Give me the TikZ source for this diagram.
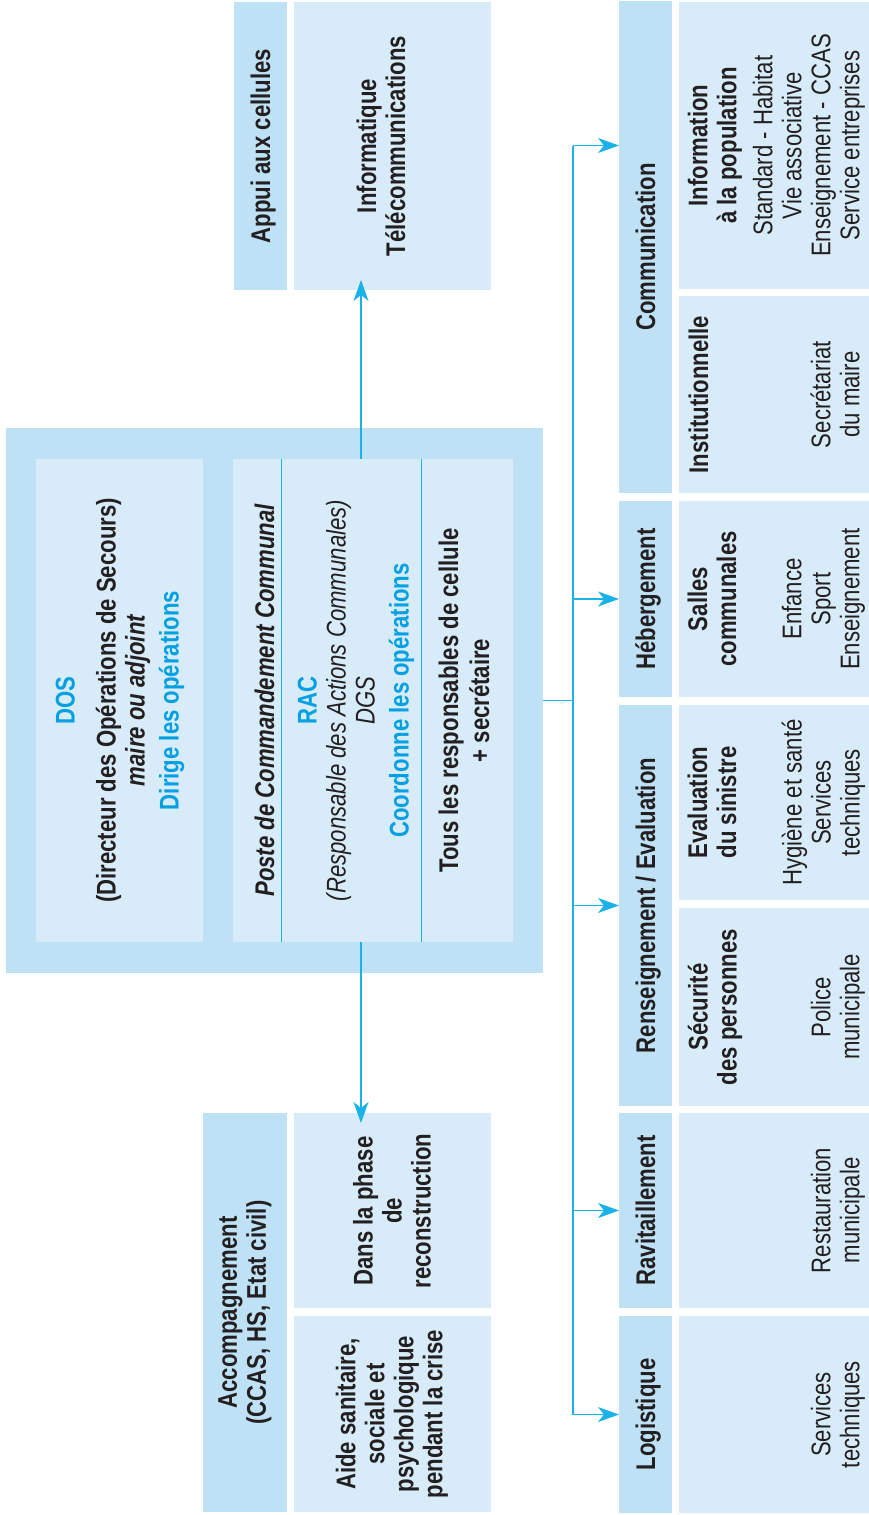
\documentclass[tikz,border=0pt]{standalone}
\usepackage{fontspec}
\setmainfont{Liberation Sans}[FakeStretch=0.82]
\usetikzlibrary{arrows.meta}
\definecolor{hdr}{RGB}{190,225,245}
\definecolor{cnt}{RGB}{215,235,249}
\definecolor{cyanline}{RGB}{27,178,234}
\definecolor{cyantext}{RGB}{0,160,227}
\definecolor{txt}{RGB}{35,31,32}
\newcommand\dfs{\fontsize{27}{29}\selectfont}
\newcommand\bx[6]{\node[#1,minimum width={#4-#2},minimum height={#5-#3}] (#6) at (#2,#3) {};}
\tikzset{
  hbox/.style={fill=hdr,draw=none,inner sep=0pt,outer sep=0pt,anchor=north west},
  cbox/.style={fill=cnt,draw=none,inner sep=0pt,outer sep=0pt,anchor=north west},
  rt/.style={rotate=90,inner sep=0pt,align=center,font=\dfs,text=txt},
  conn/.style={draw=cyanline,line width=1.4pt},
  arr/.style={conn,-{Stealth[length=21pt,width=15pt,inset=6pt]}},
  divl/.style={draw=cyanline,line width=0.9pt},
}
\begin{document}
\begin{tikzpicture}[x=1pt,y=-1pt]
\useasboundingbox (0,0) rectangle (869,1515);
% ---- boxes ----
\bx{hbox}{234}{2}{287}{290}{appui}
\bx{cbox}{294}{2}{491}{290}{infotel}
\bx{hbox}{6}{428}{543}{973}{outer}
\bx{cbox}{36}{459}{203}{942}{dos}
\bx{cbox}{233}{459}{513}{942}{pcc}
\bx{hbox}{203}{1113}{287}{1512}{accomp}
\bx{cbox}{294}{1113}{491}{1308}{dans}
\bx{cbox}{294}{1316}{491}{1512}{aide}
\bx{hbox}{619}{1}{672}{493}{comm}
\bx{hbox}{619}{501}{672}{697}{heb}
\bx{hbox}{619}{705}{672}{1106}{rens}
\bx{hbox}{619}{1113}{672}{1308}{ravi}
\bx{hbox}{619}{1316}{672}{1513}{logi}
\bx{cbox}{679}{2}{869}{289}{infopop}
\bx{cbox}{679}{296}{869}{493}{instit}
\bx{cbox}{679}{501}{869}{697}{salles}
\bx{cbox}{679}{705}{869}{900}{evalu}
\bx{cbox}{679}{908}{869}{1106}{secu}
\bx{cbox}{679}{1113}{869}{1308}{resto}
\bx{cbox}{679}{1316}{869}{1513}{servt}
% dividers in PCC
\draw[divl] ([xshift=48pt]pcc.north west) -- ([xshift=48pt]pcc.south west);
\draw[divl] ([xshift=188pt]pcc.north west) -- ([xshift=188pt]pcc.south west);
% ---- connectors ----
\coordinate (vx) at (361,0);
\coordinate (tx) at (573,0);
\draw[arr] (pcc.north -| vx) -- ([yshift=10pt]infotel.south -| vx);
\draw[arr] (pcc.south -| vx) -- ([yshift=-10pt]dans.north -| vx);
\draw[conn] (outer.east) -- (outer.east -| tx);
\draw[conn] (tx |- infopop.center) -- (tx |- logi.center);
\draw[arr] (tx |- infopop.center) -- (comm.west |- infopop.center);
\draw[arr] (tx |- heb.center) -- (heb.west);
\draw[arr] (tx |- rens.center) -- (rens.west);
\draw[arr] (tx |- ravi.center) -- (ravi.west);
\draw[arr] (tx |- logi.center) -- (logi.west);
% ---- texts ----
\node[rt,anchor=base] (tappui) at (270,146) {\bfseries Appui aux cellules};
\node[rt] (tinfotel) at (381,146) {\bfseries Informatique\\\bfseries Télécommunications};
\node[rt] (tdos) at (120,700.5) {{\bfseries\color{cyantext}DOS}\\[12pt]
  {\bfseries (Directeur des Opérations de Secours)}\\
  {\bfseries\itshape maire ou adjoint}\\[5pt]
  {\bfseries\color{cyantext}Dirige les opérations}};
\node[rt,anchor=base] (tpcc) at (274,700.5) {\bfseries\itshape Poste de Commandement Communal};
\node[rt] (trac) at (356,700.5) {{\bfseries\color{cyantext}RAC}\\
  {\itshape (Responsable des Actions Communales)}\\
  {\itshape DGS}\\[5pt]
  {\bfseries\color{cyantext}Coordonne les opérations}};
\node[rt] (ttous) at (464,700.5) {{\bfseries Tous les responsables de cellule}\\[2pt]{\bfseries + secrétaire}};
\node[rt] (taccomp) at (245,1312.5) {{\bfseries Accompagnement}\\{\bfseries (CCAS, HS, Etat civil)}};
\node[rt] (tdans) at (392,1211) {{\bfseries Dans la phase}\\{\bfseries de}\\{\bfseries reconstruction}};
\node[rt] (taide) at (392,1414) {{\bfseries Aide sanitaire,}\\{\bfseries sociale et}\\{\bfseries psychologique}\\{\bfseries pendant la crise}};
% headers right
\node[rt,anchor=base] (tcomm) at (655,247) {\bfseries Communication};
\node[rt,anchor=base] (theb) at (655,599) {\bfseries Hébergement};
\node[rt,anchor=base] (trens) at (655,905.5) {\bfseries Renseignement / Evaluation};
\node[rt,anchor=base] (travi) at (655,1210.5) {\bfseries Ravitaillement};
\node[rt,anchor=base] (tlogi) at (655,1414.5) {\bfseries Logistique};
% content texts
\node[rt] (tinfo1) at (715,145.5) {{\bfseries Information}\\{\bfseries à la population}};
\node[rt] (tinfo2) at (809,145.5) {Standard - Habitat\\Vie associative\\Enseignement - CCAS\\Service entreprises};
\node[rt,anchor=base] (tinst1) at (708,394.5) {\bfseries Institutionnelle};
\node[rt] (tinst2) at (835,394.5) {Secrétariat\\du maire};
\node[rt] (tsal1) at (712,599) {{\bfseries Salles}\\{\bfseries communales}};
\node[rt] (tsal2) at (823.5,599) {Enfance\\Sport\\Enseignement};
\node[rt] (teva1) at (712,802.5) {{\bfseries Evaluation}\\{\bfseries du sinistre}};
\node[rt] (teva2) at (823.5,802.5) {Hygiène et santé\\Services\\techniques};
\node[rt] (tsec1) at (715,1007) {{\bfseries Sécurité}\\{\bfseries des personnes}};
\node[rt] (tsec2) at (838,1007) {Police\\municipale};
\node[rt] (tres2) at (838,1210.5) {Restauration\\municipale};
\node[rt] (tser2) at (838,1414.5) {Services\\techniques};
\end{tikzpicture}
\end{document}
